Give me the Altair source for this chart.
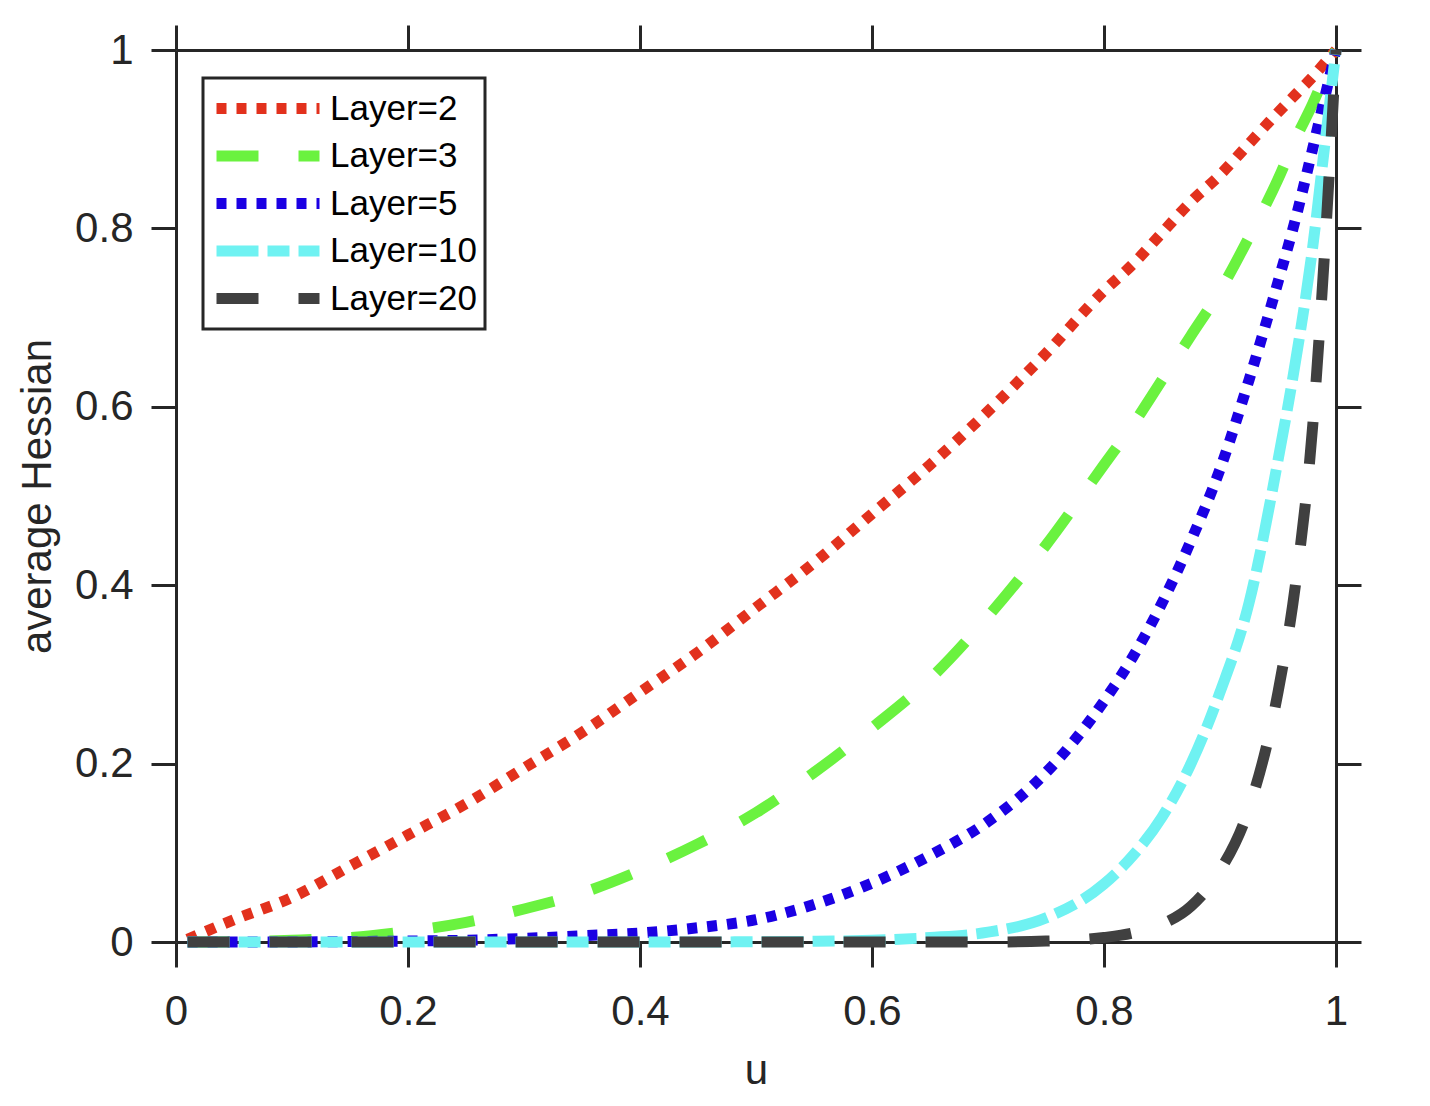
import altair as alt
import pandas as pd

# ---- data ----
u = [0.01, 0.05, 0.1, 0.15, 0.2, 0.25, 0.3, 0.35, 0.4, 0.45, 0.5, 0.55, 0.6, 0.65,
     0.7, 0.75, 0.8, 0.825, 0.85, 0.875, 0.9, 0.925, 0.95, 0.965, 0.98, 0.99, 1.0]
layer2 = [0.003, 0.025, 0.05, 0.085, 0.12, 0.155, 0.195, 0.235, 0.28, 0.325, 0.375, 0.425, 0.48, 0.535,
          0.595, 0.66, 0.73, 0.76, 0.795, 0.83, 0.86, 0.895, 0.93, 0.95, 0.97, 0.985, 1.0]
layer3 = [0.0, 0.0003, 0.002, 0.005, 0.012, 0.022, 0.037, 0.055, 0.08, 0.11, 0.145, 0.19, 0.24, 0.295,
          0.365, 0.445, 0.535, 0.58, 0.63, 0.68, 0.73, 0.79, 0.855, 0.9, 0.94, 0.97, 1.0]
layer5 = [0.0, 0.0, 0.0, 0.0005, 0.001, 0.002, 0.004, 0.007, 0.01, 0.016, 0.025, 0.042, 0.066, 0.097,
          0.135, 0.19, 0.27, 0.32, 0.38, 0.45, 0.53, 0.63, 0.74, 0.81, 0.89, 0.945, 1.0]
layer10 = [0.0, 0.0, 0.0, 0.0, 0.0, 0.0, 0.0, 0.0, 0.0, 0.0, 0.0003, 0.0008, 0.002, 0.005,
           0.011, 0.027, 0.065, 0.097, 0.14, 0.2, 0.28, 0.38, 0.54, 0.65, 0.78, 0.89, 1.0]
layer20 = [0.0, 0.0, 0.0, 0.0, 0.0, 0.0, 0.0, 0.0, 0.0, 0.0, 0.0, 0.0, 0.0, 0.0,
           0.0, 0.001, 0.005, 0.01, 0.02, 0.04, 0.08, 0.15, 0.28, 0.40, 0.58, 0.77, 1.0]

names = ["Layer=2", "Layer=3", "Layer=5", "Layer=10", "Layer=20"]
series = [layer2, layer3, layer5, layer10, layer20]
colors = ["#e2311d", "#6af23f", "#1b00e3", "#6ff2f2", "#404040"]
dashes = [[10, 10], [42, 40], [10, 10], [42, 9, 22, 9], [42, 40]]
ticks = [0, 0.2, 0.4, 0.6, 0.8, 1]

rows = []
for name, vals in zip(names, series):
    for uu, v in zip(u, vals):
        rows.append({"u": uu, "value": v, "Layer": name})
df = pd.DataFrame(rows)

FONT = "Liberation Sans"
AX = "#262626"

xscale = alt.Scale(domain=[0, 1], nice=False, zero=False)
yscale = alt.Scale(domain=[0, 1], nice=False, zero=False)
cscale = alt.Scale(domain=names, range=colors)
dscale = alt.Scale(domain=names, range=dashes)

leg = alt.Legend(
    title=None, orient="none", legendX=27, legendY=28,
    symbolType="stroke", symbolSize=10609, symbolStrokeWidth=11,
    clipHeight=45,
    labelFontSize=35, labelFont=FONT, labelColor="#000000", labelOffset=5,
    padding=8, rowPadding=2.5, strokeColor=AX, fillColor="#ffffff",
)

common = dict(tickSize=25, tickWidth=3, tickColor=AX, domainColor=AX, domainWidth=3,
              grid=False, values=ticks)

x_bottom = alt.Axis(orient="bottom", format="~g", labelFontSize=42, labelFont=FONT,
                    labelColor=AX, labelPadding=24, labelFlush=False,
                    title="u", titleFontSize=42, titleFont=FONT, titleColor=AX,
                    titleFontWeight="normal", titlePadding=18, **common)
y_left = alt.Axis(orient="left", format="~g", labelFontSize=42, labelFont=FONT,
                  labelColor=AX, labelPadding=18, labelFlush=False,
                  title="average Hessian", titleFontSize=42, titleFont=FONT, titleColor=AX,
                  titleFontWeight="normal", titlePadding=15, **common)
x_top = alt.Axis(orient="top", labels=False, title=None, **common)
y_right = alt.Axis(orient="right", labels=False, title=None, **common)


def series_layer(name, xaxis, yaxis):
    return alt.Chart(df).transform_filter(alt.datum.Layer == name).mark_line(
        strokeWidth=11, interpolate="monotone"
    ).encode(
        x=alt.X("u:Q", scale=xscale, axis=xaxis),
        y=alt.Y("value:Q", scale=yscale, axis=yaxis),
        color=alt.Color("Layer:N", scale=cscale, legend=leg),
        strokeDash=alt.StrokeDash("Layer:N", scale=dscale, legend=leg),
    )


layers = [
    series_layer(names[0], x_bottom, y_left),
    series_layer(names[1], x_top, y_right),
    series_layer(names[2], None, None),
    series_layer(names[3], None, None),
    series_layer(names[4], None, None),
]

chart = alt.layer(*layers).resolve_axis(x="independent", y="independent").properties(
    width=1160, height=892,
    autosize=alt.AutoSizeParams(type="none"),
    padding={"left": 168, "top": 42, "right": 60, "bottom": 152},
    background="#ffffff",
).configure_view(strokeWidth=0).configure_legend(strokeWidth=3)

chart.save("out.html", embed_options={"renderer": "svg", "actions": False})
